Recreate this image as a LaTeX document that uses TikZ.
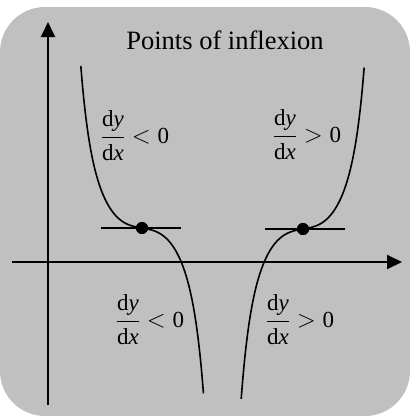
\documentclass[tikz,border=0pt]{standalone}
\usepackage{amsmath}
\usepackage{fontspec}
\setmainfont{Liberation Serif}
\usetikzlibrary{arrows.meta}

\definecolor{panel}{RGB}{192,192,192}

\begin{document}
\begin{tikzpicture}[
    x=1pt, y=-1pt,
    axis/.style={line width=2pt, -{Triangle[length=15pt, width=14pt]}},
    curve/.style={line width=1.6pt, smooth, samples=80},
    tangent/.style={line width=1.5pt},
    infl/.style={circle, fill=black, inner sep=0pt, minimum size=12pt},
    lbl/.style={font=\fontsize{23}{28}\selectfont, inner sep=0pt},
    declare function={f(\t)=10*\t+95*\t*\t*\t+42.7*\t*\t*\t*\t*\t*\t*\t*\t*\t;}
  ]

  % Panel
  \useasboundingbox (0,0) rectangle (410,416);
  \fill[panel, rounded corners=45pt] (0,7) rectangle (410,416);

  % Axes
  \coordinate (xstart) at (12,262);
  \coordinate (xend)   at (402,262);
  \coordinate (ystart) at (48,405);
  \coordinate (yend)   at (48,22);
  \draw[axis] (xstart) -- (xend);
  \draw[axis] (ystart) -- (yend);

  % Curves
  \draw[curve] plot[variable=\t, domain=-1.02:1.025] ({142+60*\t},{228+f(\t)});
  \draw[curve] plot[variable=\t, domain=-1.03:1.02] ({303+60*\t},{229-f(\t)});

  % Points of inflexion and tangents
  \node[infl] (ipL) at (142,228) {};
  \node[infl] (ipR) at (303,229) {};
  \draw[tangent] ([xshift=-41pt]ipL.center) -- ([xshift=39pt]ipL.center);
  \draw[tangent] ([xshift=-38pt]ipR.center) -- ([xshift=42pt]ipR.center);
  \node[infl] at (ipL) {};
  \node[infl] at (ipR) {};

  % Labels
  \node[lbl, font=\fontsize{26.5}{30}\selectfont] (title) at (225,40) {Points of inflexion};
  \node[lbl] (gradTL) at (135,136) {$\dfrac{\mathrm{d}\mathit{y}}{\mathrm{d}\mathit{x}} < \mathrm{0}$};
  \node[lbl] (gradTR) at (307,135) {$\dfrac{\mathrm{d}\mathit{y}}{\mathrm{d}\mathit{x}} > \mathrm{0}$};
  \node[lbl] (gradBL) at (150,320) {$\dfrac{\mathrm{d}\mathit{y}}{\mathrm{d}\mathit{x}} < \mathrm{0}$};
  \node[lbl] (gradBR) at (300,320) {$\dfrac{\mathrm{d}\mathit{y}}{\mathrm{d}\mathit{x}} > \mathrm{0}$};

\end{tikzpicture}
\end{document}
